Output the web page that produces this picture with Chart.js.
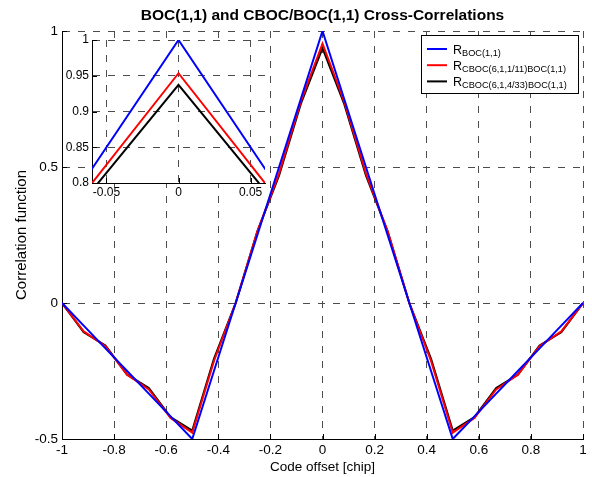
<!DOCTYPE html>
<html>
<head>
<meta charset="utf-8">
<title>BOC(1,1) and CBOC/BOC(1,1) Cross-Correlations</title>
<style>
  html, body { margin: 0; padding: 0; background: #fff; }
  #wrap { position: relative; width: 592px; height: 477px; }
  #wrap canvas { position: absolute; left: 0; top: 0; }
  #inset { pointer-events: none; }
</style>
<script src="https://cdn.jsdelivr.net/npm/chart.js@4.4.1/dist/chart.umd.min.js"></script>
</head>
<body>
<div id="wrap">
  <canvas id="main" width="592" height="477"></canvas>
  <canvas id="inset" width="592" height="477"></canvas>
</div>
<script>
// Code offset in chips (breakpoints every 1/12 chip)
const offsets = [-1, -0.9167, -0.8333, -0.75, -0.6667, -0.5833, -0.5, -0.4167, -0.3333, -0.25, -0.1667, -0.0833,
                 0, 0.0833, 0.1667, 0.25, 0.3333, 0.4167, 0.5, 0.5833, 0.6667, 0.75, 0.8333, 0.9167, 1];

// BOC(1,1) autocorrelation
const rBoc = [0, -0.0833, -0.1667, -0.25, -0.3333, -0.4167, -0.5, -0.25, 0, 0.25, 0.5, 0.75,
              1, 0.75, 0.5, 0.25, 0, -0.25, -0.5, -0.4167, -0.3333, -0.25, -0.1667, -0.0833, 0];

// CBOC(6,1,1/11) x BOC(1,1) cross-correlation
const rCboc11 = [0, -0.1046, -0.1589, -0.2635, -0.3178, -0.4224, -0.4767, -0.2132, 0, 0.2635, 0.4767, 0.7402,
                 0.9535, 0.7402, 0.4767, 0.2635, 0, -0.2132, -0.4767, -0.4224, -0.3178, -0.2635, -0.1589, -0.1046, 0];

// CBOC(6,1,4/33) x BOC(1,1) cross-correlation
const rCboc433 = [0, -0.1071, -0.1562, -0.2634, -0.3125, -0.4196, -0.4687, -0.2053, 0, 0.2634, 0.4687, 0.7321,
                  0.9374, 0.7321, 0.4687, 0.2634, 0, -0.2053, -0.4687, -0.4196, -0.3125, -0.2634, -0.1562, -0.1071, 0];

const seriesSubs = ['BOC(1,1)', 'CBOC(6,1,1/11)BOC(1,1)', 'CBOC(6,1,4/33)BOC(1,1)'];
const seriesColors = ['#0000ff', '#ff0000', '#000000'];

const xTicks = [-1, -0.8, -0.6, -0.4, -0.2, 0, 0.2, 0.4, 0.6, 0.8, 1];
const yTicks = [-0.5, 0, 0.5, 1];
const insetXTicks = [-0.05, 0, 0.05];
const insetYTicks = [0.8, 0.85, 0.9, 0.95, 1];

const FONT = '"Liberation Sans", Arial, Helvetica, sans-serif';
Chart.defaults.font.family = FONT;
Chart.defaults.color = '#000';

const GRID_COLOR = '#4d4d4d';
const GRID_DASH = [7, 8];

function makeDatasets(clip) {
  const series = [rBoc, rCboc11, rCboc433];
  return series.map((vals, i) => ({
    label: 'R' + seriesSubs[i],
    data: offsets.map((x, j) => ({ x: x, y: vals[j] })),
    borderColor: seriesColors[i],
    backgroundColor: seriesColors[i],
    borderWidth: 2,
    pointRadius: 0,
    tension: 0,
    fill: false,
    clip: clip
  }));
}

function fixedTicks(list) {
  return scale => { scale.ticks = list.map(v => ({ value: v })); };
}

// Short inward tick marks on the left and bottom axes
const innerTicks = {
  id: 'innerTicks',
  beforeDatasetsDraw(chart) {
    const { ctx, chartArea, scales } = chart;
    const len = 5;
    ctx.save();
    ctx.strokeStyle = '#000';
    ctx.lineWidth = 1;
    ctx.beginPath();
    scales.x.ticks.forEach(t => {
      const px = Math.round(scales.x.getPixelForValue(t.value)) + 0.5;
      ctx.moveTo(px, chartArea.bottom);
      ctx.lineTo(px, chartArea.bottom - len);
    });
    scales.y.ticks.forEach(t => {
      const py = Math.round(scales.y.getPixelForValue(t.value)) + 0.5;
      ctx.moveTo(chartArea.left, py);
      ctx.lineTo(chartArea.left + len, py);
    });
    ctx.stroke();
    ctx.restore();
  }
};

// Legend box with subscripted series names
const subLegend = {
  id: 'subLegend',
  afterDraw(chart) {
    const { ctx, chartArea } = chart;
    const w = 157, h = 58;
    const left = Math.round(chartArea.right - 5 - w);
    const top = Math.round(chartArea.top + 4);
    ctx.save();
    ctx.fillStyle = '#fff';
    ctx.fillRect(left, top, w, h);
    ctx.strokeStyle = '#000';
    ctx.lineWidth = 1;
    ctx.strokeRect(left + 0.5, top + 0.5, w, h);
    seriesSubs.forEach((sub, i) => {
      const y = top + 14 + i * 16.2;
      ctx.strokeStyle = seriesColors[i];
      ctx.lineWidth = 2;
      ctx.beginPath();
      ctx.moveTo(left + 6, y);
      ctx.lineTo(left + 26, y);
      ctx.stroke();
      ctx.fillStyle = '#000';
      ctx.textAlign = 'left';
      ctx.textBaseline = 'alphabetic';
      ctx.font = '12.5px ' + FONT;
      ctx.fillText('R', left + 32, y + 4.5);
      const rw = ctx.measureText('R').width;
      ctx.font = '9.2px ' + FONT;
      ctx.fillText(sub, left + 32 + rw, y + 7);
    });
    ctx.restore();
  }
};

// White plot area for the zoomed view
const insetBackground = {
  id: 'insetBackground',
  beforeDraw(chart) {
    const { ctx, chartArea } = chart;
    ctx.save();
    ctx.fillStyle = '#fff';
    ctx.fillRect(chartArea.left, chartArea.top, chartArea.right - chartArea.left, chartArea.bottom - chartArea.top);
    ctx.restore();
  }
};

function axisOpts(extra) {
  return Object.assign({
    type: 'linear',
    grid: { color: GRID_COLOR, lineWidth: 1, drawTicks: false },
    border: { display: true, color: '#000', width: 1, dash: GRID_DASH }
  }, extra);
}

new Chart(document.getElementById('main'), {
  type: 'line',
  data: { datasets: makeDatasets(undefined) },
  plugins: [innerTicks, subLegend],
  options: {
    responsive: false,
    animation: false,
    devicePixelRatio: 1,
    layout: { padding: { left: 0, right: 9, top: 0, bottom: 0 } },
    plugins: {
      legend: { display: false },
      tooltip: { enabled: false },
      title: {
        display: true,
        fullSize: false,
        text: 'BOC(1,1) and CBOC/BOC(1,1) Cross-Correlations',
        color: '#000',
        font: { size: 15.5, weight: 'bold', lineHeight: 1.2 },
        padding: { top: 6.2, bottom: 6.2 }
      }
    },
    scales: {
      x: axisOpts({
        min: -1, max: 1,
        afterBuildTicks: fixedTicks(xTicks),
        afterFit: s => { s.height = 38; },
        ticks: { font: { size: 13.5, lineHeight: 1.2 }, color: '#000', padding: 3.4, maxRotation: 0, autoSkip: false,
                 callback: v => String(v) },
        title: { display: true, text: 'Code offset [chip]', color: '#000',
                 font: { size: 13.5, lineHeight: 1.2 }, padding: { top: 0, bottom: 2 } }
      }),
      y: axisOpts({
        min: -0.5, max: 1,
        afterBuildTicks: fixedTicks(yTicks),
        afterFit: s => { s.width = 62; },
        ticks: { font: { size: 13.5, lineHeight: 1.2 }, color: '#000', padding: 4, autoSkip: false,
                 callback: v => String(v) },
        title: { display: true, text: 'Correlation function', color: '#000',
                 font: { size: 15, lineHeight: 1.2 }, padding: { top: 12.8, bottom: 0 } }
      })
    }
  }
});

new Chart(document.getElementById('inset'), {
  type: 'line',
  data: { datasets: makeDatasets(0) },
  plugins: [insetBackground, innerTicks],
  options: {
    responsive: false,
    animation: false,
    devicePixelRatio: 1,
    events: [],
    layout: { padding: { left: 52, right: 327, top: 40, bottom: 274 } },
    plugins: {
      legend: { display: false },
      tooltip: { enabled: false },
      title: { display: false }
    },
    scales: {
      x: axisOpts({
        min: -0.06, max: 0.06,
        afterBuildTicks: fixedTicks(insetXTicks),
        afterFit: s => { s.height = 20; },
        ticks: { font: { size: 12, lineHeight: 1.2 }, color: '#000', padding: 2.3, maxRotation: 0, autoSkip: false,
                 callback: v => String(v) }
      }),
      y: axisOpts({
        min: 0.8, max: 1,
        afterBuildTicks: fixedTicks(insetYTicks),
        afterFit: s => { s.width = 40; },
        ticks: { font: { size: 12, lineHeight: 1.2 }, color: '#000', padding: 3, autoSkip: false,
                 callback: v => String(v) }
      })
    }
  }
});
</script>
</body>
</html>
